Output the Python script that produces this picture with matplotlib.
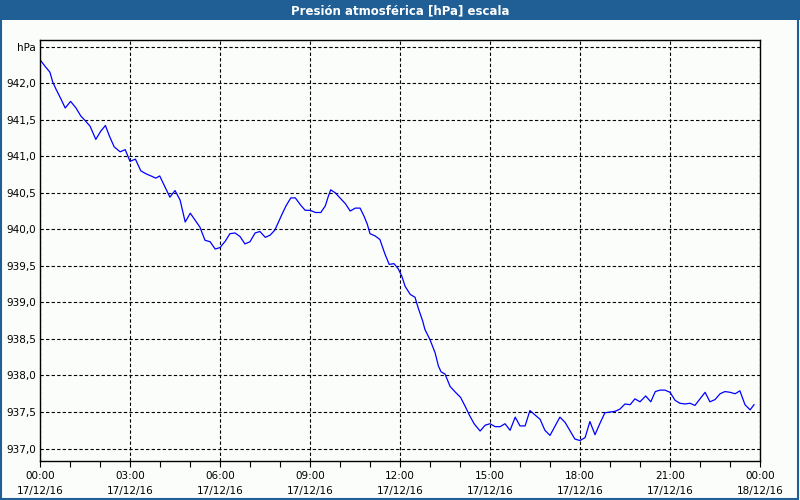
import matplotlib
matplotlib.use("Agg")
import matplotlib.pyplot as plt
from matplotlib.patches import Rectangle
from matplotlib.ticker import MultipleLocator

# hours after 00:00 17/12/16 and pressure in hPa
hours = [0.00, 0.17, 0.33, 0.42, 0.53, 0.69, 0.84,
         1.02, 1.20, 1.36, 1.50, 1.67, 1.86, 2.02,
         2.18, 2.31, 2.47, 2.67, 2.84, 3.00, 3.18,
         3.36, 3.53, 3.70, 3.86, 3.99, 4.13, 4.33,
         4.50, 4.67, 4.84, 5.01, 5.18, 5.33, 5.50,
         5.67, 5.84, 6.00, 6.18, 6.33, 6.50, 6.67,
         6.83, 7.00, 7.17, 7.33, 7.51, 7.67, 7.83,
         8.06, 8.20, 8.36, 8.51, 8.69, 8.84, 9.01,
         9.18, 9.36, 9.51, 9.61, 9.69, 9.84, 10.00,
         10.18, 10.34, 10.51, 10.67, 10.80, 10.91, 11.00,
         11.17, 11.33, 11.50, 11.64, 11.80, 11.94, 12.06,
         12.17, 12.34, 12.50, 12.61, 12.76, 12.83, 13.00,
         13.17, 13.28, 13.37, 13.50, 13.67, 13.85, 14.02,
         14.17, 14.31, 14.47, 14.67, 14.84, 15.00, 15.17,
         15.34, 15.50, 15.67, 15.84, 16.00, 16.17, 16.33,
         16.50, 16.67, 16.83, 17.00, 17.17, 17.33, 17.50,
         17.67, 17.83, 18.00, 18.17, 18.33, 18.50, 18.67,
         18.83, 19.00, 19.17, 19.33, 19.50, 19.67, 19.83,
         20.00, 20.19, 20.36, 20.51, 20.67, 20.83, 21.00,
         21.17, 21.33, 21.50, 21.67, 21.83, 22.00, 22.17,
         22.33, 22.50, 22.67, 22.83, 23.00, 23.17, 23.33,
         23.50, 23.67, 23.80]

pressure = [942.32, 942.23, 942.15, 942.02, 941.92, 941.79, 941.66,
            941.75, 941.66, 941.55, 941.49, 941.41, 941.23, 941.34,
            941.42, 941.28, 941.13, 941.06, 941.09, 940.93, 940.96,
            940.80, 940.76, 940.73, 940.70, 940.73, 940.61, 940.44,
            940.53, 940.40, 940.10, 940.22, 940.12, 940.03, 939.85,
            939.83, 939.73, 939.75, 939.84, 939.94, 939.95, 939.90,
            939.80, 939.83, 939.95, 939.97, 939.89, 939.92, 939.99,
            940.20, 940.32, 940.43, 940.43, 940.33, 940.26, 940.26,
            940.23, 940.23, 940.32, 940.45, 940.54, 940.50, 940.43,
            940.35, 940.25, 940.29, 940.29, 940.18, 940.07, 939.94,
            939.91, 939.86, 939.66, 939.52, 939.53, 939.46, 939.36,
            939.22, 939.11, 939.07, 938.92, 938.74, 938.63, 938.49,
            938.31, 938.13, 938.05, 938.02, 937.85, 937.77, 937.70,
            937.58, 937.46, 937.34, 937.24, 937.32, 937.34, 937.30,
            937.30, 937.34, 937.25, 937.43, 937.31, 937.31, 937.52,
            937.46, 937.40, 937.25, 937.18, 937.31, 937.43, 937.36,
            937.24, 937.13, 937.11, 937.15, 937.37, 937.19, 937.35,
            937.49, 937.50, 937.51, 937.54, 937.61, 937.60, 937.68,
            937.64, 937.72, 937.64, 937.78, 937.80, 937.80, 937.77,
            937.66, 937.62, 937.61, 937.62, 937.59, 937.68, 937.77,
            937.64, 937.67, 937.75, 937.78, 937.77, 937.75, 937.79,
            937.60, 937.53, 937.60]

x_ticks = [0, 3, 6, 9, 12, 15, 18, 21, 24]
x_labels = ["00:00\n17/12/16", "03:00\n17/12/16", "06:00\n17/12/16",
            "09:00\n17/12/16", "12:00\n17/12/16", "15:00\n17/12/16",
            "18:00\n17/12/16", "21:00\n17/12/16", "00:00\n18/12/16"]
y_ticks = [937.0, 937.5, 938.0, 938.5, 939.0, 939.5, 940.0, 940.5,
           941.0, 941.5, 942.0, 942.5]
y_labels = ["937,0", "937,5", "938,0", "938,5", "939,0", "939,5", "940,0",
            "940,5", "941,0", "941,5", "942,0", "hPa"]

title = "Presión atmosférica [hPa] escala"
bar_blue = "#1f5f96"
bg = "#fbfdfb"

fig = plt.figure(figsize=(8, 5), dpi=100, facecolor=bg)

# title bar and outer frame
fig.patches.append(Rectangle((0, 0.96), 1, 0.04, transform=fig.transFigure,
                             facecolor=bar_blue, edgecolor="none", zorder=0))
fig.patches.append(Rectangle((0.001, 0.002), 0.997, 0.99, transform=fig.transFigure,
                             facecolor="none", edgecolor=bar_blue, linewidth=1.5, zorder=0))
fig.text(0.5, 0.979, title, color="white", fontsize=8.5, fontweight="bold",
         ha="center", va="center")

ax = fig.add_axes([0.05, 0.078, 0.90, 0.842])
ax.set_facecolor(bg)
ax.plot(hours, pressure, color="#0000ff", linewidth=0.9)

ax.set_xlim(0, 24)
ax.set_ylim(936.83, 942.59)
ax.set_xticks(x_ticks)
ax.set_xticklabels(x_labels, fontsize=7.5, linespacing=1.6)
ax.xaxis.set_minor_locator(MultipleLocator(1))
ax.set_yticks(y_ticks)
ax.set_yticklabels(y_labels, fontsize=7.5)

ax.tick_params(axis="x", which="both", direction="out", length=4, width=0.8,
               pad=3, color="black")
ax.tick_params(axis="y", length=0, pad=3)

ax.grid(True, color="black", linestyle=(0, (3, 2)), linewidth=0.8)
for s in ax.spines.values():
    s.set_color("black")
    s.set_linewidth(1)

fig.savefig("out.png", dpi=100, facecolor=bg)
